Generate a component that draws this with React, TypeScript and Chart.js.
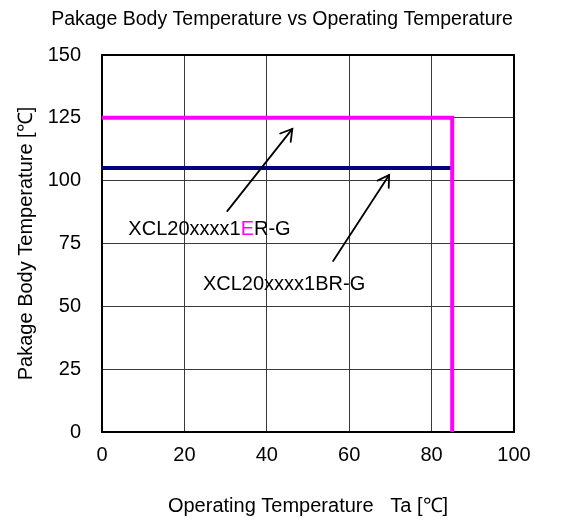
import React, { useEffect, useRef } from "react";
import { Chart, registerables } from "chart.js";

Chart.register(...registerables);

// ---- data ----
const xTickValues = [0, 20, 40, 60, 80, 100];
const yTickValues = [0, 25, 50, 75, 100, 125, 150];

const seriesEName = "XCL20xxxx1ER-G";
const seriesEX = [0, 85, 85];
const seriesEY = [125, 125, 0];

const seriesBName = "XCL20xxxx1BR-G";
const seriesBX = [0, 85];
const seriesBY = [105, 105];

const chartTitle = "Pakage Body Temperature vs Operating Temperature";
const xAxisTitle = "Operating Temperature   Ta [\u2103]";
const yAxisTitle = "Pakage Body Temperature [\u2103]";

// annotation label anchors (data coords) and text parts
const labelEParts = ["XCL20xxxx1", "E", "R-G"];
const labelEColors = ["#000000", "#FF00FF", "#000000"];
const labelEAt = [6.4, 80.4];
const labelBParts = ["XCL20xxxx1BR-G"];
const labelBColors = ["#000000"];
const labelBAt = [24.5, 58.5];

// arrows: [fromX, fromY, toX, toY] in data coords
const arrowE = [30.4, 87.9, 46.2, 120.6];
const arrowB = [56.1, 68.0, 69.7, 102.3];

const MAGENTA = "#FF00FF";
const NAVY = "#000080";
const FONT = '"Liberation Sans", Arial, sans-serif';
const FS = 20;
const TITLE_FS = 19.5;

const toPoints = (xs: number[], ys: number[]) => xs.map((x, i) => ({ x, y: ys[i] }));

const annotationPlugin = {
  id: "annot",
  beforeDatasetsDraw(chart: any) {
    const { ctx, chartArea } = chart;
    ctx.save();
    ctx.strokeStyle = "#000";
    ctx.lineWidth = 2;
    ctx.strokeRect(chartArea.left, chartArea.top, chartArea.right - chartArea.left, chartArea.bottom - chartArea.top);
    ctx.restore();
  },
  afterDatasetsDraw(chart: any) {
    const { ctx } = chart;
    const xs = chart.scales.x;
    const ys = chart.scales.y;
    ctx.save();
    const drawArrow = (a: number[]) => {
      const x1 = xs.getPixelForValue(a[0]);
      const y1 = ys.getPixelForValue(a[1]);
      const x2 = xs.getPixelForValue(a[2]);
      const y2 = ys.getPixelForValue(a[3]);
      ctx.strokeStyle = "#000";
      ctx.lineWidth = 1.8;
      ctx.lineCap = "round";
      ctx.beginPath();
      ctx.moveTo(x1, y1);
      ctx.lineTo(x2, y2);
      ctx.stroke();
      const ang = Math.atan2(y2 - y1, x2 - x1);
      const hl = 13;
      const ha = (31 * Math.PI) / 180;
      ctx.beginPath();
      ctx.moveTo(x2 - hl * Math.cos(ang - ha), y2 - hl * Math.sin(ang - ha));
      ctx.lineTo(x2, y2);
      ctx.lineTo(x2 - hl * Math.cos(ang + ha), y2 - hl * Math.sin(ang + ha));
      ctx.stroke();
    };
    drawArrow(arrowE);
    drawArrow(arrowB);
    const drawLabel = (parts: string[], colors: string[], at: number[]) => {
      let x = xs.getPixelForValue(at[0]);
      const y = ys.getPixelForValue(at[1]);
      ctx.font = `${FS}px ${FONT}`;
      ctx.textBaseline = "middle";
      ctx.textAlign = "left";
      parts.forEach((p, i) => {
        ctx.fillStyle = colors[i];
        ctx.fillText(p, x, y);
        x += ctx.measureText(p).width;
      });
    };
    drawLabel(labelEParts, labelEColors, labelEAt);
    drawLabel(labelBParts, labelBColors, labelBAt);
    ctx.restore();
  },
};

export default function App() {
  const ref = useRef<HTMLCanvasElement | null>(null);
  useEffect(() => {
    if (!ref.current) return;
    Chart.defaults.color = "#000";
    Chart.defaults.font.family = FONT;
    const chart = new Chart(ref.current, {
      type: "line",
      data: {
        datasets: [
          {
            label: seriesEName,
            data: toPoints(seriesEX, seriesEY),
            borderColor: MAGENTA,
            backgroundColor: MAGENTA,
            borderWidth: 4,
            pointRadius: 0,
            tension: 0,
            fill: false,
          },
          {
            label: seriesBName,
            data: toPoints(seriesBX, seriesBY),
            borderColor: NAVY,
            backgroundColor: NAVY,
            borderWidth: 4,
            pointRadius: 0,
            tension: 0,
            fill: false,
          },
        ],
      },
      options: {
        animation: false,
        responsive: true,
        maintainAspectRatio: false,
        layout: { padding: { left: 0, right: 7, top: 0, bottom: 0 } },
        plugins: {
          legend: { display: false },
          tooltip: { enabled: false },
          title: {
            display: true,
            text: chartTitle,
            color: "#000",
            font: { size: TITLE_FS, weight: "normal", family: FONT },
            padding: { top: 8, bottom: 23.6 },
          },
        },
        scales: {
          x: {
            type: "linear",
            min: 0,
            max: 100,
            afterBuildTicks: (s: any) => {
              s.ticks = xTickValues.map((v) => ({ value: v }));
            },
            afterFit: (s: any) => {
              s.height = 88;
            },
            grid: { color: "#3a3a3a", lineWidth: 1, drawTicks: false },
            border: { display: false },
            ticks: { color: "#000", padding: 11, font: { size: FS, family: FONT }, maxRotation: 0 },
            title: {
              display: true,
              text: xAxisTitle,
              color: "#000",
              font: { size: FS, family: FONT },
              padding: { top: 0, bottom: 2 },
            },
          },
          y: {
            type: "linear",
            min: 0,
            max: 150,
            afterBuildTicks: (s: any) => {
              s.ticks = yTickValues.map((v) => ({ value: v }));
            },
            afterFit: (s: any) => {
              s.width = 102;
            },
            grid: { color: "#3a3a3a", lineWidth: 1, drawTicks: false },
            border: { display: false },
            ticks: { color: "#000", padding: 21, font: { size: FS, family: FONT } },
            title: {
              display: true,
              text: yAxisTitle,
              color: "#000",
              font: { size: FS, family: FONT },
              padding: { top: 14.5, bottom: 0 },
            },
          },
          y2: {
            type: "linear",
            position: "right",
            min: 0,
            max: 150,
            display: true,
            afterFit: (s: any) => {
              s.width = 50;
            },
            grid: { display: false, drawTicks: false },
            border: { display: false },
            ticks: { display: false },
          },
        },
      },
      plugins: [annotationPlugin],
    } as any);
    return () => chart.destroy();
  }, []);
  return (
    <div style={{ position: "absolute", left: 0, top: 0, width: 571, height: 520 }}>
      <canvas ref={ref} />
    </div>
  );
}
